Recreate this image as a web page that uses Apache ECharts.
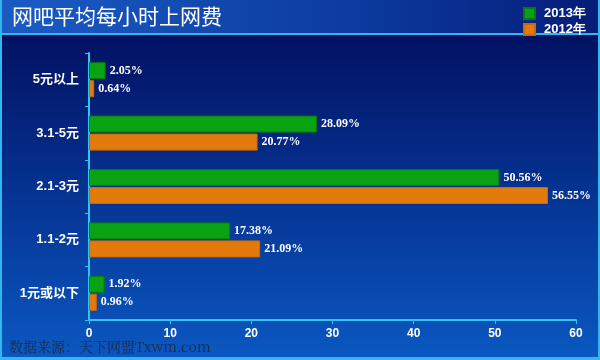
<!DOCTYPE html>
<html><head><meta charset="utf-8">
<script src="https://cdn.jsdelivr.net/npm/echarts@6/dist/echarts.min.js"></script>
<style>html,body{margin:0;padding:0;}#c{width:600px;height:360px;}</style>
</head><body><div id="c"></div>
<script>
const categories = ['1元或以下', '1.1-2元', '2.1-3元', '3.1-5元', '5元以上'];
const values2013 = [1.92, 17.38, 50.56, 28.09, 2.05];
const values2012 = [0.96, 21.09, 56.55, 20.77, 0.64];
const xTicks = [0, 10, 20, 30, 40, 50, 60];

const chart = echarts.init(document.getElementById('c'));
const labelStyle = {
  show: true, position: 'right', distance: 4,
  color: '#ffffff', fontFamily: 'Liberation Serif', fontWeight: 'bold', fontSize: 12,
  formatter: p => p.value.toFixed(2) + '%'
};
chart.setOption({
  backgroundColor: {
    type: 'linear', x: 0, y: 0, x2: 0, y2: 1,
    colorStops: [{offset: 0, color: '#010a58'}, {offset: 0.5, color: '#05308e'}, {offset: 1, color: '#0b58c2'}]
  },
  graphic: [
    {type: 'rect', left: 0, top: 0, shape: {width: 600, height: 33},
     style: {fill: {type: 'linear', x: 0, y: 0, x2: 1, y2: 0,
       colorStops: [{offset: 0, color: '#1a5cc4'}, {offset: 0.6, color: '#0c3a9e'}, {offset: 1, color: '#061c78'}]}}},
    {type: 'rect', left: 0, top: 33, shape: {width: 600, height: 2}, style: {fill: '#2fb8ee'}},
    {type: 'rect', left: 0, top: 0, shape: {width: 2, height: 360}, style: {fill: '#2fb8ee'}},
    {type: 'rect', left: 598, top: 0, shape: {width: 2, height: 360}, style: {fill: '#2fb8ee'}},
    {type: 'rect', left: 0, top: 357, shape: {width: 600, height: 3}, style: {fill: '#2fb8ee'}},
    {type: 'text', left: 12, top: 6, style: {text: '网吧平均每小时上网费', fill: '#ffffff', fontSize: 21, fontFamily: 'Noto Sans CJK SC'}},
    {type: 'text', left: 9, top: 340, style: {text: '数据来源：天下网盟Txwm.com', fill: '#1c2a48', fontSize: 14, fontFamily: 'Noto Serif CJK SC, Liberation Serif, Noto Sans CJK SC'}}
  ],
  legend: {
    data: ['2013年', '2012年'], orient: 'vertical', left: 518, top: 2, itemGap: 3,
    itemWidth: 11, itemHeight: 11, icon: 'rect',
    textStyle: {color: '#ffffff', fontWeight: 'bold', fontSize: 13, fontFamily: 'Liberation Sans', padding: [0, 0, 0, 4]}
  },
  grid: {left: 89, right: 24, top: 53, bottom: 40},
  xAxis: {
    type: 'value', min: 0, max: 60, interval: 10,
    axisLine: {show: true, lineStyle: {color: '#2fc4f2', width: 2}},
    axisTick: {show: true, length: 4, lineStyle: {color: '#2fc4f2'}},
    splitLine: {show: false},
    axisLabel: {color: '#ffffff', fontWeight: 'bold', fontSize: 12, fontFamily: 'Liberation Sans', margin: 8,
      formatter: v => xTicks.includes(v) ? String(v) : ''}
  },
  yAxis: {
    type: 'category', data: categories,
    axisLine: {show: true, lineStyle: {color: '#2fc4f2', width: 2}},
    axisTick: {show: true, length: 4, lineStyle: {color: '#2fc4f2'}},
    axisLabel: {color: '#ffffff', fontWeight: 'bold', fontSize: 13, fontFamily: 'Liberation Sans, Noto Sans CJK SC', margin: 10}
  },
  series: [
    {name: '2013年', type: 'bar', data: values2013, barWidth: 17, barGap: '6%',
     itemStyle: {color: '#08a212', borderColor: '#077a0c', borderWidth: 1}, label: labelStyle},
    {name: '2012年', type: 'bar', data: values2012, barWidth: 17,
     itemStyle: {color: '#e27a0c', borderColor: '#c86a08', borderWidth: 1}, label: labelStyle}
  ]
});
</script></body></html>
